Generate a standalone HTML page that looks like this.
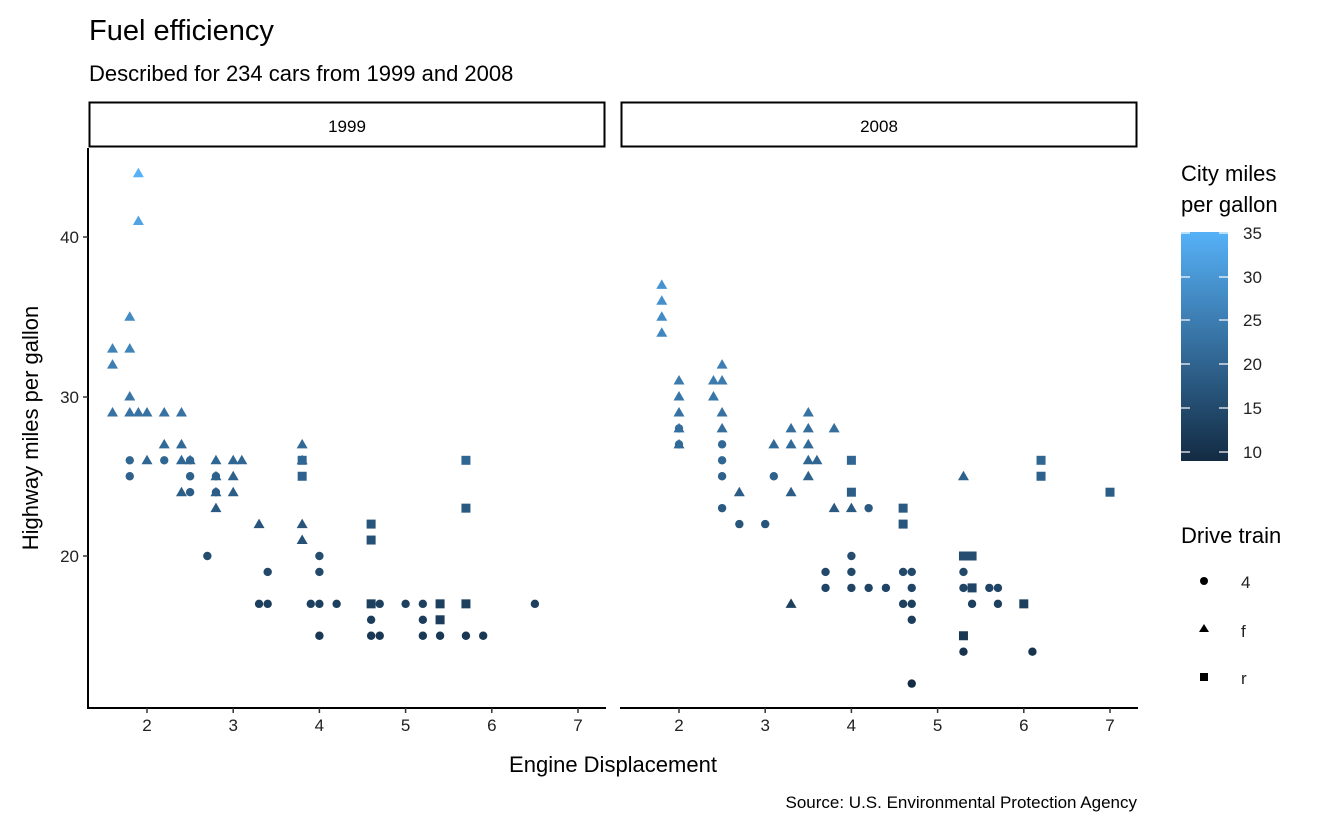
<!DOCTYPE html>
<html><head><meta charset="utf-8"><style>
body{margin:0;background:#fff;}
svg{display:block;font-family:"Liberation Sans",Arial,sans-serif;}
</style></head><body>
<svg id="s" width="1344" height="830" xmlns="http://www.w3.org/2000/svg">
<rect width="1344" height="830" fill="#fff"/>
<text x="89" y="40" font-size="29" fill="#000">Fuel efficiency</text>
<text x="89" y="81" font-size="22" fill="#000">Described for 234 cars from 1999 and 2008</text>
<rect x="89.5" y="102.5" width="515" height="44" fill="#fff" stroke="#000" stroke-width="2"/>
<text x="347" y="132" font-size="17" text-anchor="middle">1999</text>
<rect x="621.5" y="102.5" width="515" height="44" fill="#fff" stroke="#000" stroke-width="2"/>
<text x="879" y="132" font-size="17" text-anchor="middle">2008</text>
<line x1="88" y1="148" x2="88" y2="709" stroke="#000" stroke-width="2"/>
<line x1="88" y1="708" x2="606" y2="708" stroke="#000" stroke-width="2"/>
<line x1="620" y1="708" x2="1138" y2="708" stroke="#000" stroke-width="2"/>
<g font-size="17" text-anchor="end" fill="#222">
<text x="79" y="243">40</text><text x="79" y="403">30</text><text x="79" y="562">20</text>
</g>
<g stroke="#333" stroke-width="1.5"><line x1="83" y1="237" x2="88" y2="237"/><line x1="83" y1="397" x2="88" y2="397"/><line x1="83" y1="556" x2="88" y2="556"/></g>
<g id="xt" font-size="17" text-anchor="middle" fill="#222"></g>
<g id="pts"></g>
<text transform="translate(38,428) rotate(-90)" font-size="22" text-anchor="middle">Highway miles per gallon</text>
<text x="613" y="772" font-size="22" text-anchor="middle">Engine Displacement</text>
<text x="1137" y="808" font-size="17" text-anchor="end">Source: U.S. Environmental Protection Agency</text>
<text x="1181" y="181" font-size="22">City miles</text>
<text x="1181" y="212" font-size="22">per gallon</text>
<defs><linearGradient id="g" x1="0" y1="0" x2="0" y2="1"><stop offset="0" stop-color="#56B1F7"/><stop offset="1" stop-color="#132B43"/></linearGradient></defs>
<rect x="1181" y="232" width="47" height="229" fill="url(#g)"/>
<g font-size="17" fill="#222">
<text x="1243" y="239">35</text><text x="1243" y="283">30</text><text x="1243" y="326">25</text><text x="1243" y="370">20</text><text x="1243" y="414">15</text><text x="1243" y="458">10</text>
</g>
<g stroke="#fff" stroke-width="1.2"><line x1="1181" y1="233" x2="1190" y2="233"/><line x1="1219" y1="233" x2="1228" y2="233"/><line x1="1181" y1="277" x2="1190" y2="277"/><line x1="1219" y1="277" x2="1228" y2="277"/><line x1="1181" y1="320" x2="1190" y2="320"/><line x1="1219" y1="320" x2="1228" y2="320"/><line x1="1181" y1="364" x2="1190" y2="364"/><line x1="1219" y1="364" x2="1228" y2="364"/><line x1="1181" y1="408" x2="1190" y2="408"/><line x1="1219" y1="408" x2="1228" y2="408"/><line x1="1181" y1="452" x2="1190" y2="452"/><line x1="1219" y1="452" x2="1228" y2="452"/></g>
<text x="1181" y="543" font-size="22">Drive train</text>
<circle cx="1204" cy="581" r="4"/>
<polygon points="1204,624 1209,632 1199,632"/>
<rect x="1200" y="673" width="8" height="8"/>
<g font-size="17" fill="#222"><text x="1241" y="588">4</text><text x="1241" y="637">f</text><text x="1241" y="684">r</text></g>
</svg>
<script>
var ns="http://www.w3.org/2000/svg";
function el(t,a,p){var e=document.createElementNS(ns,t);for(var k in a)e.setAttribute(k,a[k]);(p||document.getElementById('pts')).appendChild(e);return e;}
function X(v,o){return 147+o+(v-2)*86.2;}
function Y(v){return 237+(40-v)*15.95;}
var xt=document.getElementById('xt');
[0,532].forEach(function(o){for(var v=2;v<=7;v++){var x=X(v,o);el('line',{x1:x,y1:708,x2:x,y2:713,stroke:'#333','stroke-width':1.5},xt);var t=el('text',{x:x,y:731},xt);t.textContent=v;}});
function col(h){var c=9+(h-12)*26/32;var t=Math.max(0,Math.min(1,(c-9)/26));
var a=[0x13,0x2B,0x43],b=[0x56,0xB1,0xF7];return 'rgb('+a.map(function(v,i){return Math.round(v+(b[i]-v)*t)}).join(',')+')';}
var d99={f:[[1.6,33],[1.6,32],[1.6,29],[1.8,35],[1.8,33],[1.8,30],[1.8,29],[1.9,44],[1.9,41],[1.9,29],[2.0,29],[2.0,26],[2.2,29],[2.2,27],[2.4,29],[2.4,27],[2.4,26],[2.4,24],[2.5,26],[2.8,26],[2.8,25],[2.8,24],[2.8,23],[3.0,26],[3.0,25],[3.0,24],[3.1,26],[3.3,22],[3.8,27],[3.8,26],[3.8,22],[3.8,21]],
c:[[1.8,26],[1.8,25],[2.2,26],[2.5,26],[2.5,25],[2.5,24],[2.7,20],[2.8,25],[2.8,24],[3.3,17],[3.4,19],[3.4,17],[4.0,20],[4.0,19],[4.0,17],[4.0,15],[3.9,17],[4.2,17],[4.6,17],[4.6,16],[4.6,15],[4.7,17],[4.7,15],[5.0,17],[5.2,17],[5.2,16],[5.2,15],[5.4,17],[5.4,16],[5.4,15],[5.7,15],[5.9,15],[6.5,17]],
r:[[3.8,26],[3.8,25],[4.6,22],[4.6,21],[4.6,17],[5.4,17],[5.4,16],[5.7,26],[5.7,23],[5.7,17]]};
var d08={f:[[1.8,37],[1.8,36],[1.8,35],[1.8,34],[2.0,31],[2.0,30],[2.0,29],[2.0,28],[2.0,27],[2.4,31],[2.4,30],[2.5,32],[2.5,31],[2.5,29],[2.5,28],[2.7,24],[3.1,27],[3.3,28],[3.3,27],[3.3,24],[3.3,17],[3.5,29],[3.5,28],[3.5,27],[3.5,26],[3.5,25],[3.6,26],[3.8,28],[3.8,23],[4.0,23],[5.3,25]],
c:[[2.0,28],[2.0,27],[2.5,27],[2.5,26],[2.5,25],[2.5,23],[2.7,22],[3.0,22],[3.1,25],[3.7,19],[3.7,18],[4.0,20],[4.0,19],[4.0,18],[4.2,23],[4.2,18],[4.4,18],[4.6,19],[4.6,17],[4.7,19],[4.7,18],[4.7,17],[4.7,16],[4.7,12],[5.3,19],[5.3,18],[5.3,14],[5.4,17],[5.6,18],[5.7,18],[5.7,17],[6.1,14]],
r:[[4.0,26],[4.0,24],[4.6,23],[4.6,22],[5.3,20],[5.3,15],[5.4,20],[5.4,18],[6.0,17],[6.2,26],[6.2,25],[7.0,24],[5.35,20]]};
[[d99,0],[d08,532]].forEach(function(p){var d=p[0],o=p[1];
d.c.forEach(function(q){el('circle',{cx:X(q[0],o),cy:Y(q[1]),r:4.2,fill:col(q[1])});});
d.f.forEach(function(q){var x=X(q[0],o),y=Y(q[1]);el('polygon',{points:x+','+(y-5.5)+' '+(x+5.5)+','+(y+4)+' '+(x-5.5)+','+(y+4),fill:col(q[1])});});
d.r.forEach(function(q){var x=X(q[0],o),y=Y(q[1]);el('rect',{x:x-4.5,y:y-4.5,width:9,height:9,fill:col(q[1])});});
});
</script>
</body></html>
